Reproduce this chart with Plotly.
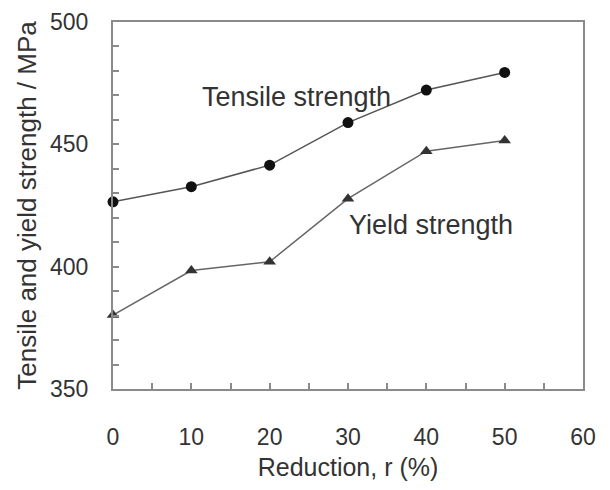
import plotly.graph_objects as go

reduction = [0, 10, 20, 30, 40, 50]
tensile = [426.5, 432.7, 441.5, 458.9, 472.2, 479.4]
yield_s = [380.2, 398.4, 402.0, 427.8, 447.2, 451.6]

x_ticks = [0, 10, 20, 30, 40, 50, 60]
y_ticks = [350, 400, 450, 500]

FONT = "Liberation Sans, Arial, sans-serif"

fig = go.Figure()
fig.add_trace(go.Scatter(
    x=reduction, y=tensile, mode="lines+markers",
    line=dict(color="#555555", width=1.5),
    marker=dict(symbol="circle", size=11, color="#111111"),
    showlegend=False, cliponaxis=False))
fig.add_trace(go.Scatter(
    x=reduction, y=yield_s, mode="lines+markers",
    line=dict(color="#666666", width=1.5),
    marker=dict(symbol="triangle-up", size=11, color="#333333"),
    showlegend=False, cliponaxis=False))

fig.add_annotation(x=11.1, y=469.5, text="Tensile strength", showarrow=False,
                   xanchor="left", yanchor="middle",
                   font=dict(family=FONT, size=27, color="#333333"))
fig.add_annotation(x=29.9, y=417, text="Yield strength", showarrow=False,
                   xanchor="left", yanchor="middle",
                   font=dict(family=FONT, size=27, color="#333333"))

axis_common = dict(
    showline=True, linecolor="#8a8a8a", linewidth=2, mirror=True,
    showgrid=False, zeroline=False, ticks="inside", ticklen=6,
    tickcolor="#8a8a8a", tickwidth=1.5,
    tickfont=dict(family=FONT, size=23, color="#333333"),
    ticklabeloverflow="allow",
)

fig.update_xaxes(
    range=[0, 60], tickvals=x_ticks, ticktext=[str(v) for v in x_ticks],
    minor=dict(dtick=5, ticks="inside", ticklen=6, tickcolor="#8a8a8a", tickwidth=1.5),
    ticklabelstandoff=26,
    title=dict(text="Reduction, r (%)", standoff=10,
               font=dict(family=FONT, size=25, color="#333333")),
    **axis_common)
fig.update_yaxes(
    range=[350, 500], tickvals=y_ticks, ticktext=[str(v) for v in y_ticks],
    minor=dict(dtick=10, ticks="inside", ticklen=6, tickcolor="#8a8a8a", tickwidth=1.5),
    ticklabelstandoff=18,
    title=dict(text="Tensile and yield strength / MPa", standoff=6,
               font=dict(family=FONT, size=26, color="#333333")),
    **axis_common)

fig.update_layout(
    width=610, height=490,
    margin=dict(l=105, r=35, t=14, b=109, autoexpand=False),
    paper_bgcolor="white", plot_bgcolor="white",
)

fig.write_html("out.html")
